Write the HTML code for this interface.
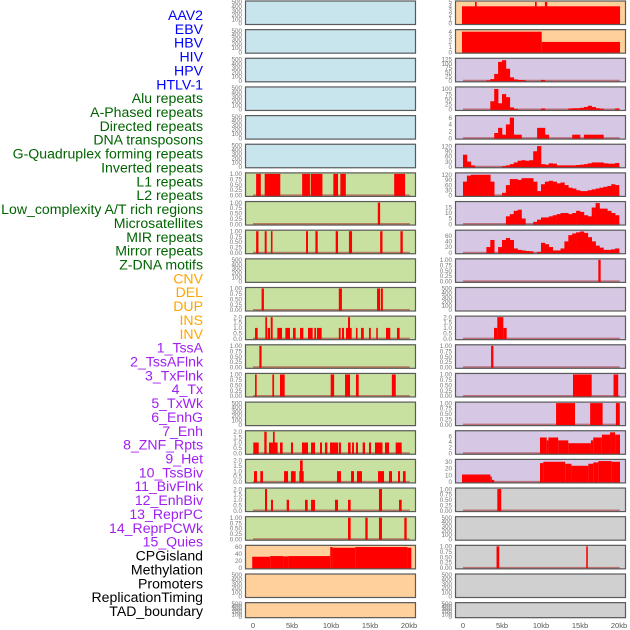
<!DOCTYPE html>
<html><head><meta charset="utf-8">
<style>
html,body{margin:0;padding:0;background:#fff;}
svg{display:block;}
.lab{font-family:"Liberation Sans",sans-serif;font-size:14.1px;text-anchor:end;}
.tk{font-family:"Liberation Sans",sans-serif;font-size:6.3px;fill:#777;text-anchor:end;}
.xt{font-family:"Liberation Sans",sans-serif;font-size:7.5px;fill:#555;text-anchor:middle;}
</style></head>
<body>
<svg id="chart" width="630" height="630" viewBox="0 0 630 630" xmlns="http://www.w3.org/2000/svg">
<g id="labels"></g>
<g id="panels"></g>
<g id="xaxis"></g>
</svg>
<script>
// ---- labels ----
const trackLabels = ["AAV2","EBV","HBV","HIV","HPV","HTLV-1","Alu repeats","A-Phased repeats","Directed repeats","DNA transposons","G-Quadruplex forming repeats","Inverted repeats","L1 repeats","L2 repeats","Low_complexity A/T rich regions","Microsatellites","MIR repeats","Mirror repeats","Z-DNA motifs","CNV","DEL","DUP","INS","INV","1_TssA","2_TssAFlnk","3_TxFlnk","4_Tx","5_TxWk","6_EnhG","7_Enh","8_ZNF_Rpts","9_Het","10_TssBiv","11_BivFlnk","12_EnhBiv","13_ReprPC","14_ReprPCWk","15_Quies","CPGisland","Methylation","Promoters","ReplicationTiming","TAD_boundary"];
const labelGroups = [6,13,5,15,5];
const groupColors = ["#0000ff","#006400","#ffa500","#a020f0","#000000"];

// ---- x axis ----
const xTickKb = [0,5,10,15,20];
const xTickLabels = ["0","5kb","10kb","15kb","20kb"];

// ---- tick sets ----
const ticks500 = ["0","100","200","300","400","500"];
const ticks1 = ["0.00","0.25","0.50","0.75","1.00"];
const ticks2 = ["0.0","0.5","1.0","1.5","2.0"];

// ---- left column segment data [startKb, endKb, value] ----
const L1segs = [[0.4,1.0,1],[1.5,3.5,1],[6.3,7.3,1],[7.4,8.9,1],[10.3,10.9,1],[11.2,11.9,1],[18.1,19.5,1]];
const L2segs = [[16.0,16.3,1]];
const MIRsegs = [[0.4,0.7,1],[1.5,1.75,1],[2.3,2.5,1],[6.8,7.05,1],[8.0,8.3,1],[10.6,10.9,1],[12.3,12.7,1],[16.3,16.6,1],[18.9,19.2,1]];
const DELsegs = [[1.1,1.4,1],[11.0,11.4,1],[15.9,16.3,1],[16.4,16.65,1]];
const INSsegs = [[0.26,0.6,1],[1.58,1.8,2],[1.88,2.18,1],[2.27,2.52,2],[3.12,3.72,1],[4.15,4.74,1],[5.13,5.47,1],[6.03,6.45,1],[7.05,7.65,1],[7.86,8.08,1],[8.2,8.8,1],[11.0,11.24,1],[11.41,11.67,1],[11.92,12.18,1],[12.18,12.44,2],[12.44,12.65,1],[13.2,13.4,1],[13.85,14.2,1],[14.87,15.1,1],[15.8,16.0,1],[17.05,17.6,1],[18.46,18.8,1]];
const TssAsegs = [[0.81,1.1,1]];
const TssAFlnkSegs = [[0.26,0.47,1],[2.48,2.7,1],[3.46,4.06,1],[9.96,10.4,1],[11.8,12.44,1],[13.2,13.55,1],[17.8,18.3,1]];
const TxWkSegs = [[0.04,0.73,1],[1.45,1.75,2],[2.05,3.16,1],[2.56,2.78,2],[3.46,3.8,1],[4.87,5.13,1],[6.28,7.05,1],[7.44,7.95,1],[8.59,8.85,1],[9.23,9.53,1],[9.87,10.9,1],[11.0,11.28,1],[12.18,12.52,1],[12.7,12.95,1],[13.2,13.46,1],[14.06,14.36,1],[14.87,15.13,1],[15.64,16.6,1],[16.92,17.44,1],[18.29,19.06,1]];
const EnhGsegs = [[0.13,0.51,1],[0.94,1.28,1],[3.98,4.49,1],[4.87,5.47,1],[5.94,6.5,1],[6.03,6.37,2],[10.77,11.28,1],[12.57,12.95,1],[13.33,13.97,1],[16.03,16.8,1],[17.44,17.82,1],[18.59,18.85,1],[19.23,19.57,1]];
const EnhSegs = [[1.54,1.8,2],[2.31,2.56,1],[4.32,4.62,1],[6.67,7.01,1],[7.44,7.95,1],[10.51,10.9,1],[12.18,12.52,1],[16.15,16.54,2],[18.72,19.06,1]];
const ZNFsegs = [[12.18,12.52,1],[14.4,14.7,1],[16.15,16.54,1],[19.4,19.7,1]];
const CpGsegs = [[-0.1,2.2,32],[2.2,3.9,34],[3.9,4.5,33],[4.5,9.9,34],[9.9,10.2,60],[10.2,13.1,58],[13.1,19.8,60],[19.8,20.3,58]];

// ---- right column data ----
const AAV2segs = [[-0.13,20.13,4],[1.54,1.75,5],[9.23,9.45,5],[10.5,10.8,5]];
const EBVsegs = [[-0.13,10.09,4],[10.09,20.13,2]];
// profiles: 40 bins of 0.5kb from 0 to 20kb
const HIVbins = [0,0,0,0,0,0,2,10,40,110,120,70,20,8,5,4,0,0,0,0,5,0,0,0,0,0,0,0,0,0,0,0,0,0,0,0,0,0,0,0];
const HPVbins = [0,0,0,0,0,0,0,40,100,30,75,60,10,3,0,0,0,0,0,0,5,0,0,0,0,0,0,5,6,6,8,12,18,12,6,4,0,0,0,5];
const HTLVbins = [0,0,0,0,0,0,0,0,1.5,3,1,4,6,1,1,0,0,0,0,3,3,1,0,0,0,0,0,0,1,1,0,1,1,1,1,1,0,0,0,0];
const AluBins = [70,30,8,0,0,0,0,0,0,0,3,8,15,25,35,38,35,38,90,120,15,12,20,18,8,8,8,8,8,10,12,15,20,25,25,25,20,18,18,22];
const RL1bins = [80,115,120,120,120,120,120,80,0,0,15,60,95,95,90,100,100,100,80,25,65,80,85,80,70,75,60,45,40,30,25,25,30,35,40,45,50,55,65,60];
const LowCbins = [0,0,0,0,0,0,0,0,0,0,0,7,9,12,13,5,0,0,2,4,6,6,7,8,9,10,10,9,10,12,11,8,7,15,19,14,14,12,10,8];
const RMIRbins = [0,0,0,0,0,0,20,45,0,20,45,52,45,15,10,8,6,5,0,3,35,30,20,8,8,15,40,62,68,72,75,70,55,40,25,18,10,10,12,15];
const ZDNAsegs = [[17.35,17.65,1]];
const RINSsegs = [[3.98,4.4,1],[4.4,5.17,2],[5.17,5.6,1]];
const RTssAsegs = [[3.6,3.9,1]];
const RTxFlnkSegs = [[14.1,16.5,1],[19.3,19.9,1]];
const RTxSegs = [[11.93,14.36,1],[16.3,17.9,1],[19.6,20.1,1]];
const RTxWkSegs = [[9.87,10.73,5.5],[10.73,10.95,4.5],[10.95,12.2,5.5],[12.2,13.5,4.5],[13.5,16.4,3.5],[16.4,16.7,4.5],[16.7,17.8,5.5],[17.8,18.85,6.5],[18.85,19.5,7.3],[19.5,20.13,6.5]];
const REnhGsegs = [[-0.13,3.5,11],[3.5,3.7,8],[3.7,4.0,3],[9.87,10.3,28],[10.3,13.1,30],[13.1,13.9,27],[13.9,16.07,24],[16.07,16.7,27],[16.7,17.35,29],[17.35,19.06,31],[19.06,20.13,30]];
const RHetSegs = [[4.4,4.9,1]];
const RCpGsegs = [[4.3,4.65,1],[15.8,16.0,1]];

const BLUE="#c8e4ec", GREEN="#c8e0a0", ORANGE="#ffd09c", PURPLE="#d6c8e4", GREY="#d0d0d0";
const panels = [
 [0,0,BLUE,500,ticks500,500,"none",null,"aav2-left"],
 [0,1,BLUE,500,ticks500,500,"none",null,"ebv-left"],
 [0,2,BLUE,500,ticks500,500,"none",null,"hbv-left"],
 [0,3,BLUE,500,ticks500,500,"none",null,"hiv-left"],
 [0,4,BLUE,500,ticks500,500,"none",null,"hpv-left"],
 [0,5,BLUE,500,ticks500,500,"none",null,"htlv-left"],
 [0,6,GREEN,1,ticks1,1,"seg",L1segs,"l1-left"],
 [0,7,GREEN,1,ticks1,1,"seg",L2segs,"l2-left"],
 [0,8,GREEN,1,ticks1,1,"seg",MIRsegs,"mir-left"],
 [0,9,GREEN,500,ticks500,500,"none",null,"zdna-left"],
 [0,10,GREEN,1,ticks1,1,"seg",DELsegs,"del-left"],
 [0,11,GREEN,2,ticks2,2,"seg",INSsegs,"ins-left"],
 [0,12,GREEN,1,ticks1,1,"seg",TssAsegs,"tssa-left"],
 [0,13,GREEN,1,ticks1,1,"seg",TssAFlnkSegs,"tssaflnk-left"],
 [0,14,GREEN,500,ticks500,500,"none",null,"tx-left"],
 [0,15,GREEN,2,ticks2,2,"seg",TxWkSegs,"txwk-left"],
 [0,16,GREEN,2,ticks2,2,"seg",EnhGsegs,"enhg-left"],
 [0,17,GREEN,2,ticks2,2,"seg",EnhSegs,"enh-left"],
 [0,18,GREEN,1,ticks1,1,"seg",ZNFsegs,"znf-left"],
 [0,19,ORANGE,62,["0","20","40","60"],60,"seg",CpGsegs,"cpg-left"],
 [0,20,ORANGE,500,ticks500,500,"none",null,"promoters-left"],
 [0,21,ORANGE,500,ticks500,500,"none",null,"tad-left"],
 [1,0,ORANGE,5,["0","1","2","3","4","5"],5,"seg",AAV2segs,"aav2-right"],
 [1,1,ORANGE,4.2,["0","1","2","3","4"],4,"seg",EBVsegs,"ebv-right"],
 [1,2,PURPLE,125,["0","25","50","75","100","125"],125,"bin",HIVbins,"hiv-right"],
 [1,3,PURPLE,105,["0","25","50","75","100"],100,"bin",HPVbins,"hpv-right"],
 [1,4,PURPLE,6.3,["0","2","4","6"],6,"bin",HTLVbins,"htlv-right"],
 [1,5,PURPLE,125,["0","30","60","90","120"],120,"bin",AluBins,"alu-right"],
 [1,6,PURPLE,125,["0","30","60","90","120"],120,"bin",RL1bins,"l1-right"],
 [1,7,PURPLE,19.5,["0","5","10","15"],15,"bin",LowCbins,"lowc-right"],
 [1,8,PURPLE,76,["0","20","40","60"],60,"bin",RMIRbins,"mir-right"],
 [1,9,PURPLE,1,ticks1,1,"seg",ZDNAsegs,"zdna-right"],
 [1,10,PURPLE,500,ticks500,500,"none",null,"del-right"],
 [1,11,PURPLE,2,ticks2,2,"seg",RINSsegs,"ins-right"],
 [1,12,PURPLE,1,ticks1,1,"seg",RTssAsegs,"tssa-right"],
 [1,13,PURPLE,1,ticks1,1,"seg",RTxFlnkSegs,"txflnk-right"],
 [1,14,PURPLE,1,ticks1,1,"seg",RTxSegs,"tx-right"],
 [1,15,PURPLE,7.5,["0","2","4","6"],6,"seg",RTxWkSegs,"txwk-right"],
 [1,16,PURPLE,32,["0","10","20","30"],30,"seg",REnhGsegs,"enhg-right"],
 [1,17,GREY,1,ticks1,1,"seg",RHetSegs,"het-right"],
 [1,18,GREY,500,ticks500,500,"none",null,"znf-right"],
 [1,19,GREY,1,ticks1,1,"seg",RCpGsegs,"cpg-right"],
 [1,20,GREY,500,ticks500,500,"none",null,"promoters-right"],
 [1,21,GREY,500,ticks500,500,"none",null,"tad-right"]
];

const NS="http://www.w3.org/2000/svg";
function mk(tag,attrs,parent){const e=document.createElementNS(NS,tag);for(const k in attrs)e.setAttribute(k,attrs[k]);parent.appendChild(e);return e;}
const colLeft=[245,455], colRight=[416,626], zeroX=[253,463], pxPerKb=7.8;
const rowTop=r=>r*28.65+0.5;
const rowH=r=>r===21?16:24.5;
const xScale=(c,kb)=>zeroX[c]+kb*pxPerKb;

const lg=document.getElementById('labels');
let gi=0,cnt=0;
trackLabels.forEach((t,i)=>{
  while(cnt>=labelGroups[gi]){gi++;cnt=0;}
  cnt++;
  const e=mk('text',{class:'lab',x:203,y:15+i*13.86+5,fill:groupColors[gi]},lg);
  
  
  e.textContent=t;
});

const pg=document.getElementById('panels');
panels.forEach(p=>{
  const [c,r,bg,dmax,tks,tmax,kind,data,name]=p;
  const top=rowTop(r), h=rowH(r), x0=colLeft[c], x1=colRight[c];
  const g=mk('g',{},pg);
  
  
  mk('rect',{x:x0,y:top,width:x1-x0,height:h,fill:bg},g);
  const y0=top+h-1.5;
  const yv=v=>y0-v/dmax*(h-3);
  tks.forEach((t,i)=>{
    const v=tmax*i/(tks.length-1);
    const e=mk('text',{class:'tk',x:x0-3,y:yv(v)+2.2},g);
    
    
    e.textContent=t;
  });
  if(kind!=="none"){
    mk('line',{x1:xScale(c,0),x2:xScale(c,20.1),y1:y0,y2:y0,stroke:'rgba(170,40,40,0.55)','stroke-width':2},g);
  }
  if(kind==="seg"){
    data.forEach(s=>{
      const xa=xScale(c,s[0]), xb=xScale(c,s[1]);
      const b=mk('rect',{x:xa,y:yv(s[2]),width:Math.max(1.2,xb-xa),height:y0-yv(s[2])+1,fill:'#ff0000'},g);
      
      
    });
  } else if(kind==="bin"){
    data.forEach((v,i)=>{
      if(v<=0)return;
      const xa=xScale(c,i*0.5), xb=xScale(c,i*0.5+0.5);
      const b=mk('rect',{x:xa,y:yv(v),width:xb-xa+0.3,height:y0-yv(v)+1,fill:'#ff0000'},g);
      
      
    });
  }
  mk('rect',{x:x0+0.5,y:top+0.5,width:x1-x0-1,height:h-1,fill:'none',stroke:'#5a5a5a','stroke-width':1.2},g);
});

const xg=document.getElementById('xaxis');
[0,1].forEach(c=>{
  xTickKb.forEach((kb,i)=>{
    const e=mk('text',{class:'xt',x:xScale(c,kb),y:628},xg);
    
    
    e.textContent=xTickLabels[i];
  });
});
</script>
</body></html>
